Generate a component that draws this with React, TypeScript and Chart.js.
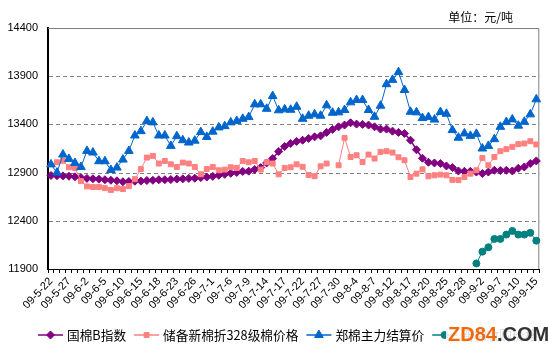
import React, { useEffect, useRef } from 'react';
import { Chart, registerables } from 'chart.js';
import { drawPoint } from 'chart.js/helpers';

Chart.register(...registerables);

const dates = [
  '09-5-22', '09-5-25', '09-5-26', '09-5-27', '09-5-31', '09-6-1', '09-6-2', '09-6-3', '09-6-4', '09-6-5',
  '09-6-8', '09-6-9', '09-6-10', '09-6-11', '09-6-12', '09-6-15', '09-6-16', '09-6-17', '09-6-18', '09-6-19',
  '09-6-22', '09-6-23', '09-6-24', '09-6-25', '09-6-26', '09-6-29', '09-6-30', '09-7-1', '09-7-2', '09-7-3',
  '09-7-6', '09-7-7', '09-7-8', '09-7-9', '09-7-10', '09-7-13', '09-7-14', '09-7-15', '09-7-16', '09-7-17',
  '09-7-20', '09-7-21', '09-7-22', '09-7-23', '09-7-24', '09-7-27', '09-7-28', '09-7-29', '09-7-30', '09-7-31',
  '09-8-3', '09-8-4', '09-8-5', '09-8-6', '09-8-7', '09-8-10', '09-8-11', '09-8-12', '09-8-13', '09-8-14',
  '09-8-17', '09-8-18', '09-8-19', '09-8-20', '09-8-21', '09-8-24', '09-8-25', '09-8-26', '09-8-27', '09-8-28',
  '09-8-31', '09-9-1', '09-9-2', '09-9-3', '09-9-4', '09-9-7', '09-9-8', '09-9-9', '09-9-10', '09-9-11',
  '09-9-14', '09-9-15',
];
const labelEvery = 3;

const seriesNames = ['国棉B指数', '储备新棉折328级棉价格', '郑棉主力结算价', '新棉收购价格'];
const unitLabel = '单位：元/吨';
const yMin = 11900;
const yMax = 14400;
const yStep = 500;

const cottonIndexB = [
  12870, 12868, 12866, 12862, 12856, 12848, 12840, 12836, 12832, 12826,
  12820, 12815, 12805, 12808, 12810, 12812, 12818, 12820, 12826, 12826,
  12828, 12833, 12835, 12840, 12842, 12848, 12854, 12861, 12872, 12882,
  12893, 12902, 12912, 12915, 12932, 12952, 13000, 13046, 13119, 13171,
  13202, 13223, 13236, 13254, 13271, 13281, 13317, 13348, 13375, 13393,
  13417, 13403, 13400, 13393, 13375, 13351, 13351, 13330, 13317, 13306,
  13236, 13137, 13049, 13007, 13000, 12994, 12969, 12952, 12917, 12913,
  12913, 12906, 12890, 12906, 12924, 12921, 12924, 12917, 12945, 12958,
  12994, 13021,
];

const reservePrice = [
  null, 13007, 13023, 12955, 12948, 12812, 12757, 12750, 12750, 12739,
  12720, 12738, 12729, 12760, 12832, 12936, 13056, 13073, 12994, 13021,
  12986, 12958, 13004, 12994, 12958, 12882, 12937, 12958, 12924, 12931,
  12955, 12948, 13021, 13007, 13021, 12931, 13007, 12994, 12882, 12948,
  12955, 12986, 12960, 12875, 12863, 12965, 12994, null, 12976, 13260,
  13062, 13080, 13010, 13087, 13046, 13115, 13122, 13108, 13059, 13028,
  12854, 12889, 12934, 12861, 12872, 12879, 12872, 12825, 12822, 12854,
  12889, 12924, 13052, 12976, 13062, 13122, 13143, 13167, 13195, 13202,
  13226, 13192,
];

const zceMain = [
  12985, 12900, 13087, 13042, 13000, 12958, 13125, 13108, 13018, 13018,
  12927, 12952, 13035, 13125, 13285, 13330, 13434, 13421, 13285, 13285,
  13177, 13278, 13236, 13212, 13231, 13320, 13270, 13325, 13369, 13382,
  13421, 13436, 13458, 13476, 13608, 13608, 13562, 13694, 13546, 13556,
  13552, 13583, 13458, 13490, 13504, 13490, 13598, 13521, 13525, 13549,
  13629, 13653, 13653, 13549, 13479, 13594, 13817, 13862, 13942, 13757,
  13531, 13525, 13466, 13476, 13450, 13528, 13510, 13341, 13262, 13306,
  13281, 13302, 13150, 13177, 13247, 13375, 13424, 13452, 13387, 13427,
  13504, 13660,
];

const newCotton = [
  ...Array(71).fill(null),
  11958, 12080, 12125, 12212, 12212, 12257, 12295, 12257, 12257, 12275,
  12194,
];

const colors = ['#800080', '#FF8080', '#0066CC', '#008080'];
const pointStyles = ['rectRot', 'rect', 'triangle', 'circle'];
const pointRadii = [4, 3.5, 5, 3.5];
const lineWidths = [1.5, 1, 1, 1];

const frame = {
  id: 'frame',
  beforeDatasetsDraw(chart: any) {
    const { ctx, chartArea: a } = chart;
    const ys = chart.scales.y;
    ctx.save();
    ctx.strokeStyle = '#808080';
    ctx.lineWidth = 1;
    ctx.setLineDash([4, 3]);
    ys.ticks.forEach((t: any) => {
      if (t.value === yMin || t.value === yMax) return;
      const py = Math.round(ys.getPixelForValue(t.value)) + 0.5;
      ctx.beginPath();
      ctx.moveTo(a.left + 1, py);
      ctx.lineTo(a.right, py);
      ctx.stroke();
    });
    ctx.setLineDash([]);
    ctx.beginPath();
    ctx.moveTo(a.left, a.top + 0.5);
    ctx.lineTo(a.right - 0.5, a.top + 0.5);
    ctx.lineTo(a.right - 0.5, a.bottom);
    ctx.stroke();
    ctx.restore();
  },
};

const legendAndUnit = {
  id: 'legendAndUnit',
  afterDraw(chart: any) {
    const { ctx } = chart;
    ctx.save();
    ctx.font = '12.7px "Noto Sans CJK SC"';
    ctx.textBaseline = 'middle';
    let x = 38;
    const y = 335;
    chart.data.datasets.forEach((ds: any) => {
      ctx.strokeStyle = ds.borderColor;
      ctx.lineWidth = 1.5;
      ctx.beginPath();
      ctx.moveTo(x, y);
      ctx.lineTo(x + 25, y);
      ctx.stroke();
      ctx.fillStyle = ds.borderColor;
      ctx.lineWidth = 1;
      drawPoint(ctx, { pointStyle: ds.pointStyle, rotation: 0, radius: ds.pointRadius, borderWidth: 1 }, x + 12.5, y);
      ctx.fillStyle = '#000';
      ctx.textAlign = 'left';
      ctx.fillText(ds.label, x + 29, y);
      x += 29 + ctx.measureText(ds.label).width + 8;
    });
    ctx.font = '12px "Noto Sans CJK SC"';
    ctx.textAlign = 'right';
    ctx.fillText(unitLabel, 513, 17);
    ctx.restore();
  },
};

export default function App() {
  const ref = useRef<HTMLCanvasElement>(null);
  useEffect(() => {
    const seriesData = [cottonIndexB, reservePrice, zceMain, newCotton];
    const chart = new Chart(ref.current as HTMLCanvasElement, {
      type: 'line',
      data: {
        labels: dates,
        datasets: seriesData.map((d, i) => ({
          label: seriesNames[i],
          data: d,
          borderColor: colors[i],
          backgroundColor: colors[i],
          pointBackgroundColor: colors[i],
          pointBorderColor: colors[i],
          pointStyle: pointStyles[i],
          pointRadius: pointRadii[i],
          pointBorderWidth: 1,
          borderWidth: lineWidths[i],
          spanGaps: false,
          tension: 0,
          order: 3 - i,
        })),
      },
      options: {
        responsive: false,
        animation: false,
        layout: { padding: { left: 0, top: 28, right: 7, bottom: 0 } },
        plugins: { legend: { display: false }, tooltip: { enabled: false } },
        scales: {
          x: {
            type: 'category',
            offset: true,
            afterFit: (s: any) => { s.height = 87; },
            grid: {
              display: true,
              drawOnChartArea: false,
              drawTicks: true,
              tickLength: 4,
              color: '#000',
              offset: true,
            },
            border: { display: true, color: '#000', width: 1 },
            ticks: {
              autoSkip: false,
              maxRotation: 47,
              minRotation: 47,
              padding: 2,
              color: '#000',
              font: { family: '"Liberation Sans", Arial, sans-serif', size: 11 },
              callback: (_v: any, idx: number) => (idx % labelEvery === 0 ? dates[idx] : ''),
            },
          },
          y: {
            min: yMin,
            max: yMax,
            afterFit: (s: any) => { s.width = 48; },
            grid: { display: false, drawTicks: false },
            border: { display: true, color: '#000', width: 2 },
            ticks: {
              stepSize: yStep,
              padding: 10,
              color: '#000',
              font: { family: '"Liberation Sans", Arial, sans-serif', size: 11 },
              callback: (v: any) => String(v),
            },
          },
        },
      },
      plugins: [frame, legendAndUnit],
    });
    return () => chart.destroy();
  }, []);

  return (
    <div style={{ position: 'fixed', left: 0, top: 0, width: 548, height: 356, background: '#fff' }}>
      <canvas ref={ref} width={548} height={356} style={{ display: 'block' }} />
      <div
        style={{
          position: 'absolute',
          left: 446,
          top: 323,
          padding: '0 2px',
          background: 'rgba(255,255,255,0.85)',
          fontFamily: '"Liberation Sans", Arial, sans-serif',
          fontWeight: 'bold',
          fontSize: 20,
          lineHeight: '22px',
          whiteSpace: 'nowrap',
        }}
      >
        <span style={{ color: '#F26A10' }}>ZD84</span>
        <span style={{ color: '#333' }}>.COM</span>
      </div>
    </div>
  );
}
